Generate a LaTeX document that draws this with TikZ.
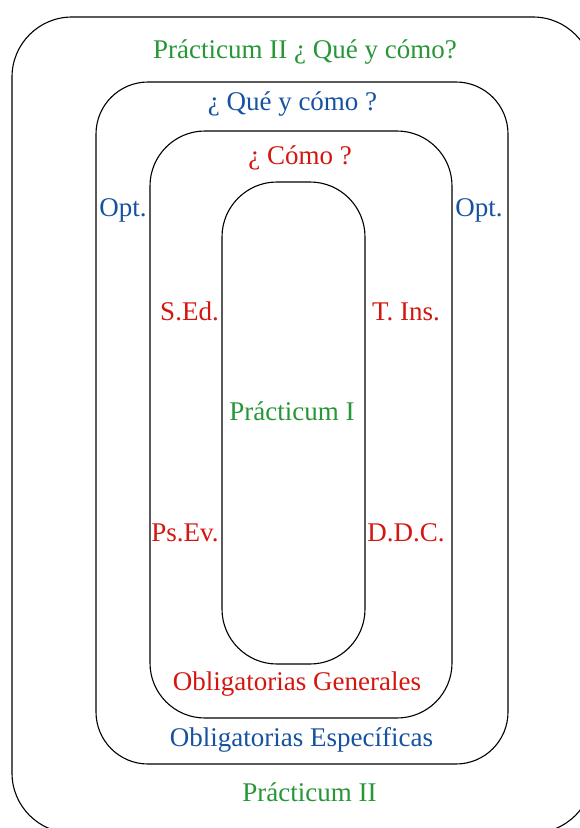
\documentclass[tikz,border=0pt]{standalone}
\usepackage{fontspec}
\setmainfont{Liberation Serif}
\definecolor{pgreen}{RGB}{38,150,55}
\definecolor{pblue}{RGB}{22,82,160}
\definecolor{pred}{RGB}{212,22,15}
\begin{document}
\begin{tikzpicture}[x=1pt,y=-1pt,
  frame/.style={draw=black,line width=1.1pt},
  lbl/.style={inner sep=0pt,anchor=base,font=\fontsize{27}{32}\selectfont},
  g/.style={lbl,text=pgreen},
  b/.style={lbl,text=pblue},
  r/.style={lbl,text=pred}]
\useasboundingbox (0,0) rectangle (580,828);
\begin{scope}
\clip (0,0) rectangle (580,828);
\draw[frame,rounded corners=60pt] (12,17) rectangle (593,833);
\draw[frame,rounded corners=52pt] (96,82) rectangle (508,764);
\draw[frame,rounded corners=55pt] (150,131) rectangle (452,718);
\draw[frame,rounded corners=55pt] (222,182) rectangle (365,664);
\end{scope}
\node[g] (t1) at (305,58) {Prácticum II ¿ Qué y cómo?};
\node[b] (t2) at (292.5,110) {¿ Qué y cómo ?};
\node[r] (t3) at (300,164) {¿ Cómo ?};
\node[b] (optl) at (123,216) {Opt.};
\node[b] (optr) at (479,216) {Opt.};
\node[r] (sed) at (189.5,320) {S.Ed.};
\node[r] (tins) at (406,320) {T. Ins.};
\node[g] (p1) at (292,420) {Prácticum I};
\node[r] (psev) at (185,541) {Ps.Ev.};
\node[r] (ddc) at (406,541) {D.D.C.};
\node[r] (og) at (297,690) {Obligatorias Generales};
\node[b] (oe) at (301.5,746) {Obligatorias Específicas};
\node[g] (p2) at (309.5,801) {Prácticum II};
\end{tikzpicture}
\end{document}
